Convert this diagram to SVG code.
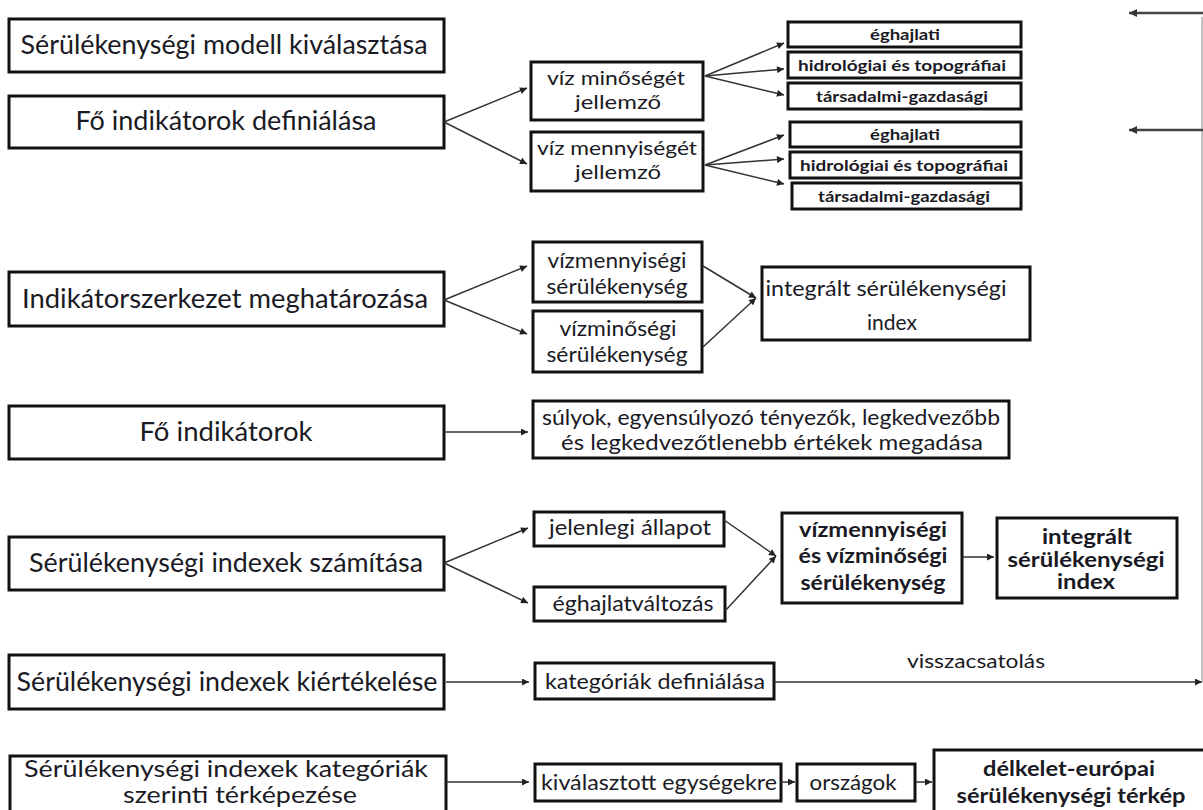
<svg xmlns="http://www.w3.org/2000/svg" width="1203" height="810" viewBox="0 0 1203 810">
<style>
.b{fill:#fff;stroke:#111;stroke-width:3}
.t{font-family:Lato,"Open Sans","Liberation Sans",sans-serif;fill:#1a1a24;text-anchor:middle}
.L{font-size:26.5px}
.M{font-size:21px}
.S{font-size:16px;font-weight:bold}
.B{font-size:20px;font-weight:bold}
.c line{stroke:#333;stroke-width:1.5;marker-end:url(#ah)}
</style>
<defs>
<marker id="ah" viewBox="0 0 10 10" refX="10" refY="5" markerWidth="8" markerHeight="7" markerUnits="userSpaceOnUse" orient="auto"><path d="M0,0 L10,5 L0,10 z" fill="#222"/></marker>
<marker id="ah2" viewBox="0 0 10 10" refX="10" refY="5" markerWidth="10" markerHeight="8" markerUnits="userSpaceOnUse" orient="auto"><path d="M0,0 L10,5 L0,10 z" fill="#333"/></marker>
</defs>

<g id="n1"><rect class="b" x="9" y="19" width="435" height="53"/><text class="t L" x="224" y="54" textLength="407" lengthAdjust="spacingAndGlyphs">Sérülékenységi modell kiválasztása</text></g>
<g id="n2"><rect class="b" x="9" y="96" width="435" height="52"/><text class="t L" x="226" y="130" textLength="301" lengthAdjust="spacingAndGlyphs">Fő indikátorok definiálása</text></g>
<g id="n3"><rect class="b" x="9" y="272" width="435" height="54"/><text class="t L" x="225" y="308" textLength="406" lengthAdjust="spacingAndGlyphs">Indikátorszerkezet meghatározása</text></g>
<g id="n4"><rect class="b" x="9" y="406" width="435" height="53"/><text class="t L" x="226" y="441" textLength="173" lengthAdjust="spacingAndGlyphs">Fő indikátorok</text></g>
<g id="n5"><rect class="b" x="9" y="537" width="435" height="53"/><text class="t L" x="226" y="572" textLength="394" lengthAdjust="spacingAndGlyphs">Sérülékenységi indexek számítása</text></g>
<g id="n6"><rect class="b" x="9" y="655" width="435" height="54"/><text class="t L" x="227" y="691" textLength="421" lengthAdjust="spacingAndGlyphs">Sérülékenységi indexek kiértékelése</text></g>
<g id="n7"><rect class="b" x="10" y="756" width="436" height="58"/><text class="t" style="font-size:23.5px" x="226" y="777" textLength="404" lengthAdjust="spacingAndGlyphs">Sérülékenységi indexek kategóriák</text><text class="t" style="font-size:23.5px" x="240" y="803" textLength="234" lengthAdjust="spacingAndGlyphs">szerinti térképezése</text></g>

<g id="m1"><rect class="b" x="531" y="62" width="172" height="58"/><text class="t" style="font-size:20px" x="616" y="85" textLength="138" lengthAdjust="spacingAndGlyphs">víz minőségét</text><text class="t" style="font-size:20px" x="618" y="109" textLength="86" lengthAdjust="spacingAndGlyphs">jellemző</text></g>
<g id="m2"><rect class="b" x="531" y="132" width="172" height="59"/><text class="t" style="font-size:20px" x="617" y="155" textLength="160" lengthAdjust="spacingAndGlyphs">víz mennyiségét</text><text class="t" style="font-size:20px" x="618" y="179" textLength="86" lengthAdjust="spacingAndGlyphs">jellemző</text></g>

<g id="r1"><rect class="b" x="788" y="22" width="233" height="25"/><text class="t S" x="905" y="40" textLength="70" lengthAdjust="spacingAndGlyphs">éghajlati</text></g>
<g id="r2"><rect class="b" x="788" y="52" width="233" height="26"/><text class="t S" x="902" y="71" textLength="208" lengthAdjust="spacingAndGlyphs">hidrológiai és topográfiai</text></g>
<g id="r3"><rect class="b" x="788" y="83" width="233" height="26"/><text class="t S" x="902" y="102" textLength="172" lengthAdjust="spacingAndGlyphs">társadalmi-gazdasági</text></g>
<g id="r4"><rect class="b" x="790" y="122" width="231" height="25"/><text class="t S" x="905" y="140" textLength="70" lengthAdjust="spacingAndGlyphs">éghajlati</text></g>
<g id="r5"><rect class="b" x="790" y="152" width="231" height="26"/><text class="t S" x="904" y="171" textLength="208" lengthAdjust="spacingAndGlyphs">hidrológiai és topográfiai</text></g>
<g id="r6"><rect class="b" x="792" y="183" width="229" height="26"/><text class="t S" x="904" y="202" textLength="172" lengthAdjust="spacingAndGlyphs">társadalmi-gazdasági</text></g>

<g id="s1"><rect class="b" x="533" y="242" width="169" height="60"/><text class="t M" x="617" y="268" textLength="139" lengthAdjust="spacingAndGlyphs">vízmennyiségi</text><text class="t M" x="617" y="294" textLength="141" lengthAdjust="spacingAndGlyphs">sérülékenység</text></g>
<g id="s2"><rect class="b" x="533" y="311" width="169" height="61"/><text class="t M" x="618" y="336" textLength="117" lengthAdjust="spacingAndGlyphs">vízminőségi</text><text class="t M" x="617" y="362" textLength="141" lengthAdjust="spacingAndGlyphs">sérülékenység</text></g>
<g id="s3"><rect class="b" x="762" y="267" width="268" height="73"/><text class="t M" x="886" y="296" textLength="241" lengthAdjust="spacingAndGlyphs">integrált sérülékenységi</text><text class="t M" x="892" y="330">index</text></g>
<g id="s4"><rect class="b" x="533" y="401" width="476" height="57"/><text class="t M" x="771" y="425" textLength="458" lengthAdjust="spacingAndGlyphs">súlyok, egyensúlyozó tényezők, legkedvezőbb</text><text class="t M" x="772" y="450" textLength="422" lengthAdjust="spacingAndGlyphs">és legkedvezőtlenebb értékek megadása</text></g>

<g id="c1"><rect class="b" x="534" y="512" width="190" height="34"/><text class="t M" x="630" y="535" textLength="162" lengthAdjust="spacingAndGlyphs">jelenlegi állapot</text></g>
<g id="c2"><rect class="b" x="534" y="587" width="191" height="34"/><text class="t M" x="633" y="611" textLength="161" lengthAdjust="spacingAndGlyphs">éghajlatváltozás</text></g>
<g id="c3"><rect class="b" x="782" y="513" width="180" height="90"/><text class="t B" x="873" y="537" textLength="148" lengthAdjust="spacingAndGlyphs">vízmennyiségi</text><text class="t B" x="873" y="563" textLength="149" lengthAdjust="spacingAndGlyphs">és vízminőségi</text><text class="t B" x="873" y="590" textLength="145" lengthAdjust="spacingAndGlyphs">sérülékenység</text></g>
<g id="c4"><rect class="b" x="997" y="518" width="180" height="80"/><text class="t B" x="1087" y="544" textLength="90" lengthAdjust="spacingAndGlyphs">integrált</text><text class="t B" x="1086" y="567" textLength="157" lengthAdjust="spacingAndGlyphs">sérülékenységi</text><text class="t B" x="1086" y="589" textLength="58" lengthAdjust="spacingAndGlyphs">index</text></g>

<g id="k1"><rect class="b" x="535" y="663" width="239" height="36"/><text class="t M" x="655" y="689" textLength="220" lengthAdjust="spacingAndGlyphs">kategóriák definiálása</text></g>
<g id="lbl"><text class="t" style="font-size:19px" x="976" y="668" textLength="138" lengthAdjust="spacingAndGlyphs">visszacsatolás</text></g>

<g id="p1"><rect class="b" x="535" y="764" width="246" height="37"/><text class="t M" x="659" y="790" textLength="236" lengthAdjust="spacingAndGlyphs">kiválasztott egységekre</text></g>
<g id="p2"><rect class="b" x="797" y="764" width="118" height="37"/><text class="t M" x="853" y="790" textLength="87" lengthAdjust="spacingAndGlyphs">országok</text></g>
<g id="p3"><rect class="b" x="934" y="750" width="272" height="64"/><text class="t B" x="1069" y="776" textLength="172" lengthAdjust="spacingAndGlyphs">délkelet-európai</text><text class="t B" x="1071" y="803" textLength="229" lengthAdjust="spacingAndGlyphs">sérülékenységi térkép</text></g>

<g id="connectors" class="c">
<line x1="444" y1="122" x2="527" y2="88"/>
<line x1="444" y1="122" x2="527" y2="164"/>
<line x1="705" y1="76" x2="784" y2="43"/>
<line x1="705" y1="76" x2="784" y2="69"/>
<line x1="705" y1="76" x2="784" y2="95"/>
<line x1="705" y1="165" x2="784" y2="135"/>
<line x1="705" y1="165" x2="784" y2="159"/>
<line x1="705" y1="165" x2="784" y2="184"/>
<line x1="444" y1="300" x2="527" y2="266"/>
<line x1="444" y1="300" x2="527" y2="334"/>
<line x1="703" y1="266" x2="756" y2="298"/>
<line x1="703" y1="347" x2="756" y2="298"/>
<line x1="444" y1="432" x2="528" y2="432"/>
<line x1="444" y1="563" x2="528" y2="528"/>
<line x1="444" y1="563" x2="528" y2="603"/>
<line x1="724" y1="520" x2="776" y2="556"/>
<line x1="725" y1="611" x2="776" y2="556"/>
<line x1="962" y1="557" x2="994" y2="557"/>
<line x1="446" y1="682" x2="529" y2="682"/>
<line x1="446" y1="782" x2="529" y2="782"/>
<line x1="781" y1="782" x2="795" y2="782"/>
<line x1="916" y1="782" x2="932" y2="782"/>
<line x1="774" y1="682" x2="1202" y2="682"/>
<path d="M1202,682 V17" fill="none" stroke="#888" stroke-width="1"/>
<line x1="1203" y1="13" x2="1129" y2="13" style="stroke:#444;stroke-width:2.5;marker-end:url(#ah2)"/>
<line x1="1203" y1="130" x2="1129" y2="130" style="stroke:#444;stroke-width:2.5;marker-end:url(#ah2)"/>
</g>
</svg>
